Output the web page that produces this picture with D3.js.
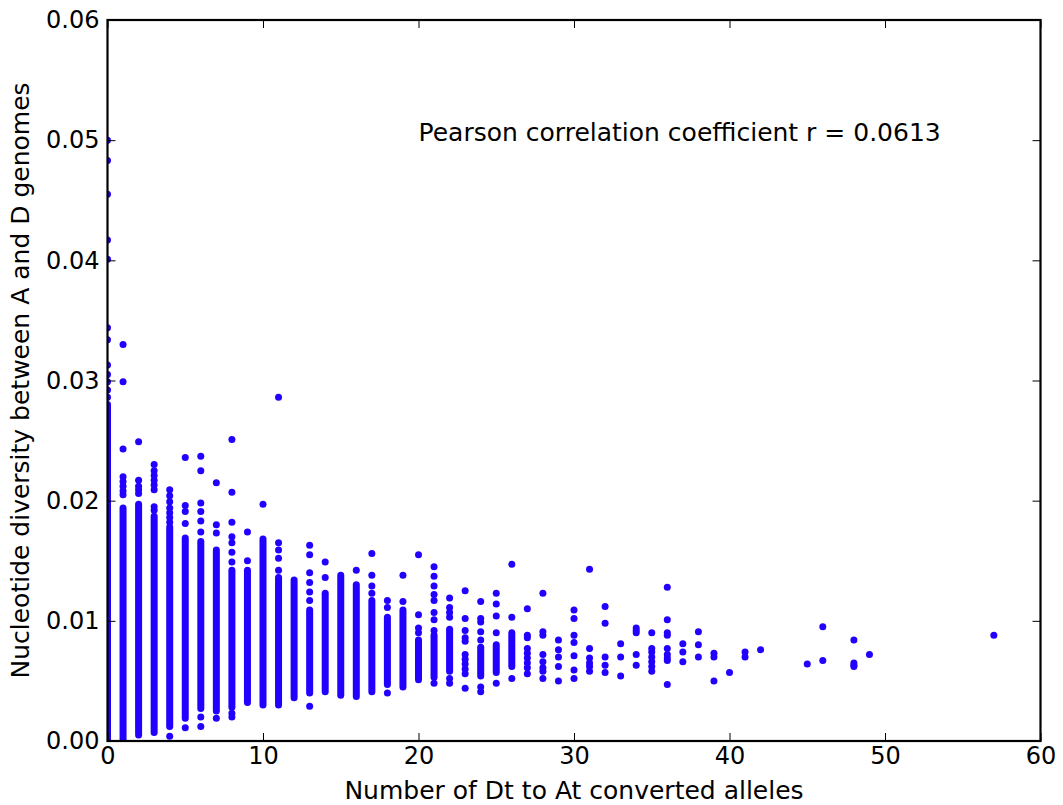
<!DOCTYPE html>
<html>
<head>
<meta charset="utf-8">
<script src="https://cdn.jsdelivr.net/npm/d3@7"></script>
<style>
  body { margin: 0; background: #fff; }
  text { font-family: "DejaVu Sans", sans-serif; }
</style>
</head>
<body>
<div class="canvas"></div>
<script>
// dense columns: x value with the low and high end of the solid run of dots
const bandX    = [0, 1, 2, 3, 4, 5, 6, 7, 8, 9, 10, 11, 12, 13, 14, 15, 16, 17, 18, 19, 20, 21, 22, 24, 25, 26]
const bandLow  = [0.0000, 0.0001, 0.0005, 0.0007, 0.0012, 0.0019, 0.0027, 0.0025, 0.0028, 0.0032,
                  0.0030, 0.0030, 0.0036, 0.0040, 0.0041, 0.0038, 0.0037, 0.0041, 0.0047, 0.0045,
                  0.0051, 0.0053, 0.0058, 0.0054, 0.0057, 0.0062]
const bandHigh = [0.0280, 0.0194, 0.0197, 0.0187, 0.0178, 0.0169, 0.0166, 0.0159, 0.0142, 0.0142,
                  0.0168, 0.0136, 0.0134, 0.0109, 0.0123, 0.0138, 0.0130, 0.0117, 0.0103, 0.0109,
                  0.0084, 0.0088, 0.0093, 0.0078, 0.0080, 0.0090]

// single dots: x value and the y values seen in that column
const dotX = [0, 1, 2, 3, 4, 5, 6, 7, 8, 9, 10, 11, 13, 14, 16, 17, 18, 19, 20, 21, 22, 23, 24, 25,
              26, 27, 28, 29, 30, 31, 32, 33, 34, 35, 36, 37, 38, 39, 40, 41, 42, 45, 46, 48, 49, 57]
const dotY = [
  [0.0500, 0.0483, 0.0455, 0.0417, 0.0401, 0.0344, 0.0334, 0.0313, 0.0305, 0.0299, 0.0292, 0.0286],
  [0.0330, 0.0299, 0.0243, 0.0220, 0.0216, 0.0212, 0.0208, 0.0205],
  [0.0249, 0.0217, 0.0212, 0.0209, 0.0206],
  [0.0230, 0.0225, 0.0221, 0.0217, 0.0213, 0.0209, 0.0195, 0.0192],
  [0.0209, 0.0204, 0.0199, 0.0194, 0.0190, 0.0186, 0.0182, 0.0004],
  [0.0236, 0.0196, 0.0191, 0.0181, 0.0011],
  [0.0237, 0.0225, 0.0198, 0.0191, 0.0183, 0.0174, 0.0020, 0.0012],
  [0.0215, 0.0180, 0.0173, 0.0019],
  [0.0251, 0.0207, 0.0182, 0.0170, 0.0165, 0.0157, 0.0149, 0.0023, 0.0020],
  [0.0174, 0.0150],
  [0.0197],
  [0.0286, 0.0165, 0.0159, 0.0152, 0.0142],
  [0.0163, 0.0155, 0.0140, 0.0132, 0.0124, 0.0117, 0.0029],
  [0.0149, 0.0136],
  [0.0142],
  [0.0156, 0.0138, 0.0129, 0.0123],
  [0.0117, 0.0111, 0.0040],
  [0.0138, 0.0116],
  [0.0155, 0.0105, 0.0094, 0.0090],
  [0.0145, 0.0137, 0.0129, 0.0122, 0.0117, 0.0107, 0.0101, 0.0092, 0.0048],
  [0.0119, 0.0111, 0.0107, 0.0103, 0.0052, 0.0048],
  [0.0125, 0.0102, 0.0092, 0.0086, 0.0083, 0.0072, 0.0068, 0.0064, 0.0060, 0.0056, 0.0044],
  [0.0116, 0.0102, 0.0099, 0.0091, 0.0084, 0.0045, 0.0041],
  [0.0123, 0.0114, 0.0104, 0.0090, 0.0048],
  [0.0147, 0.0103, 0.0052],
  [0.0110, 0.0088, 0.0086, 0.0077, 0.0073, 0.0069, 0.0065, 0.0061, 0.0056],
  [0.0123, 0.0091, 0.0088, 0.0072, 0.0066, 0.0061, 0.0058, 0.0052],
  [0.0084, 0.0076, 0.0070, 0.0062, 0.0050],
  [0.0109, 0.0102, 0.0088, 0.0082, 0.0071, 0.0059, 0.0052],
  [0.0143, 0.0077, 0.0069, 0.0065, 0.0062, 0.0058],
  [0.0112, 0.0098, 0.0070, 0.0063, 0.0057],
  [0.0081, 0.0070, 0.0054],
  [0.0094, 0.0092, 0.0090, 0.0072, 0.0063],
  [0.0090, 0.0077, 0.0074, 0.0070, 0.0066, 0.0062, 0.0058],
  [0.0128, 0.0101, 0.0090, 0.0088, 0.0077, 0.0072, 0.0069, 0.0067, 0.0047],
  [0.0081, 0.0074, 0.0066],
  [0.0091, 0.0080, 0.0070],
  [0.0073, 0.0070, 0.0050],
  [0.0057],
  [0.0074, 0.0070],
  [0.0076],
  [0.0064],
  [0.0095, 0.0067],
  [0.0084, 0.0065, 0.0063, 0.0062],
  [0.0072],
  [0.0088]
]

const xTicks = [0, 10, 20, 30, 40, 50, 60]
const yTicks = [0.00, 0.01, 0.02, 0.03, 0.04, 0.05, 0.06]

const xLabel = 'Number of Dt to At converted alleles'
const yLabel = 'Nucleotide diversity between A and D genomes'
const note = 'Pearson correlation coefficient r = 0.0613'

const width = 1063
const height = 805
const plotLeft = 107.5, plotRight = 1040.5, plotTop = 20, plotBottom = 741
const r = 3.5
const dotColor = '#2200ff'

const svg = d3.select('.canvas').append('svg')
    .attr('width', width)
    .attr('height', height)

const x = d3.scaleLinear().domain([0, 60]).range([plotLeft, plotRight])
const y = d3.scaleLinear().domain([0, 0.06]).range([plotBottom, plotTop])

svg.append('clipPath')
    .attr('id', 'plot')
  .append('rect')
    .attr('x', plotLeft)
    .attr('y', plotTop)
    .attr('width', plotRight - plotLeft)
    .attr('height', plotBottom - plotTop)

const marks = svg.append('g').attr('clip-path', 'url(#plot)')

// solid runs drawn as capsules one dot wide
marks.selectAll('rect.band')
  .data(bandX.map((v, i) => ({ x: v, lo: bandLow[i], hi: bandHigh[i] })))
  .enter().append('rect')
    .attr('class', 'band')
    .attr('x', d => x(d.x) - r)
    .attr('y', d => y(d.hi) - r)
    .attr('width', 2 * r)
    .attr('height', d => y(d.lo) - y(d.hi) + 2 * r)
    .attr('rx', r)
    .attr('fill', dotColor)

const dots = []
dotX.forEach((v, i) => dotY[i].forEach(w => dots.push({ x: v, y: w })))

marks.selectAll('circle')
  .data(dots)
  .enter().append('circle')
    .attr('cx', d => x(d.x))
    .attr('cy', d => y(d.y))
    .attr('r', r)
    .attr('fill', dotColor)

// axes, ticks pointing inwards on all four sides
const tickLen = 8

svg.append('g')
    .attr('transform', `translate(0,${plotBottom})`)
    .call(d3.axisBottom(x).tickValues(xTicks).tickSize(-tickLen).tickPadding(6).tickFormat(d3.format('d')))
svg.append('g')
    .attr('transform', `translate(0,${plotTop})`)
    .call(d3.axisTop(x).tickValues(xTicks).tickSize(-tickLen).tickFormat(''))
svg.append('g')
    .attr('transform', `translate(${plotLeft},0)`)
    .call(d3.axisLeft(y).tickValues(yTicks).tickSize(-tickLen).tickPadding(8).tickFormat(d3.format('.2f')))
svg.append('g')
    .attr('transform', `translate(${plotRight},0)`)
    .call(d3.axisRight(y).tickValues(yTicks).tickSize(-tickLen).tickFormat(''))

svg.selectAll('.domain').remove()
svg.selectAll('.tick line').attr('stroke', '#000').attr('stroke-width', 1)
svg.selectAll('.tick text')
    .attr('fill', '#000')
    .style('font-size', '24px')
    .style('font-family', '"DejaVu Sans", sans-serif')

svg.append('rect')
    .attr('x', plotLeft)
    .attr('y', plotTop)
    .attr('width', plotRight - plotLeft)
    .attr('height', plotBottom - plotTop)
    .attr('fill', 'none')
    .attr('stroke', '#000')
    .attr('stroke-width', 2.2)

svg.append('text')
    .attr('x', (plotLeft + plotRight) / 2)
    .attr('y', 799)
    .attr('text-anchor', 'middle')
    .style('font-size', '25px')
    .text(xLabel)

svg.append('text')
    .attr('transform', `translate(29,${(plotTop + plotBottom) / 2}) rotate(-90)`)
    .attr('text-anchor', 'middle')
    .style('font-size', '25px')
    .text(yLabel)

svg.append('text')
    .attr('x', x(20))
    .attr('y', 141)
    .style('font-size', '25px')
    .text(note)
</script>
</body>
</html>
